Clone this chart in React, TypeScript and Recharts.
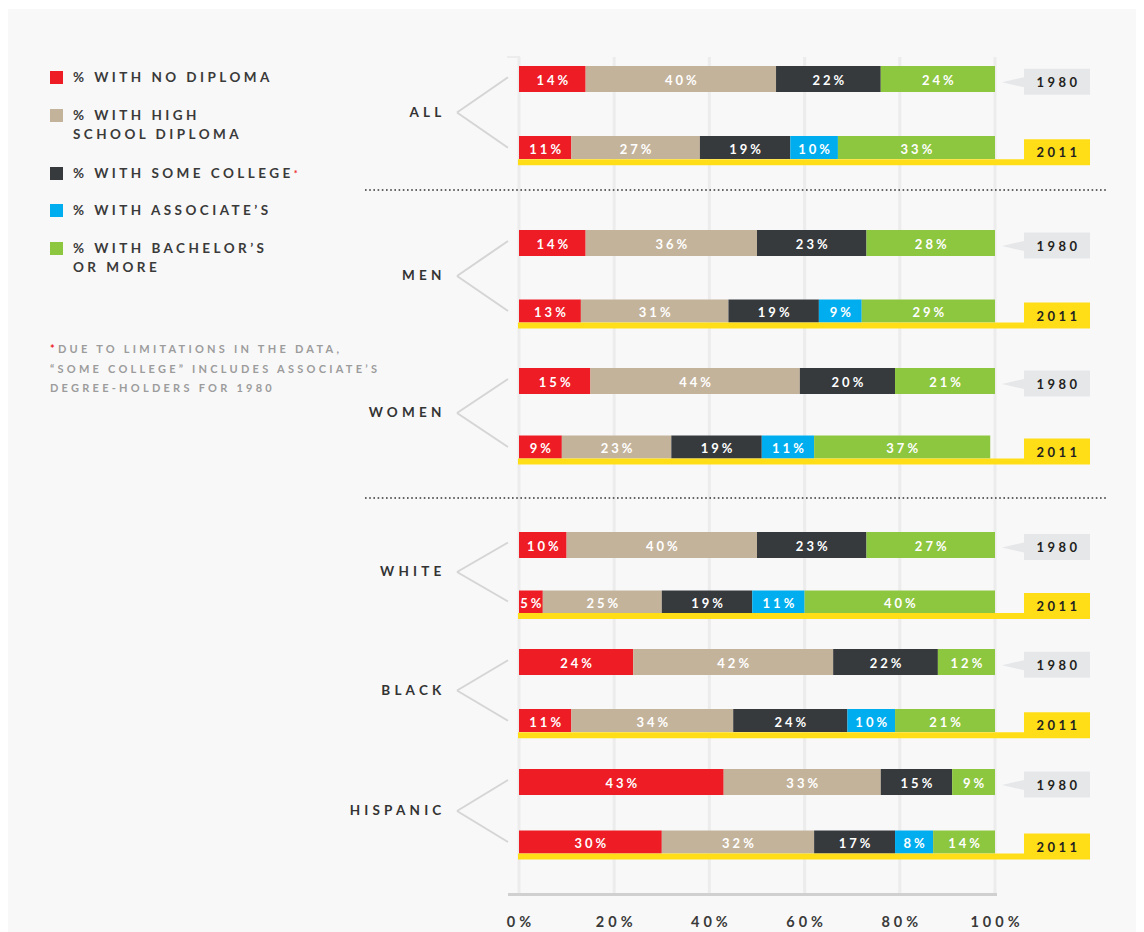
import { BarChart, Bar, XAxis, YAxis, CartesianGrid } from 'recharts'

// categories
const groups = ['ALL', 'MEN', 'WOMEN', 'WHITE', 'BLACK', 'HISPANIC']
const years = ['1980', '2011']

// one value per bar: ALL 1980, ALL 2011, MEN 1980, MEN 2011, ...
const noDiploma = [14, 11, 14, 13, 15, 9, 10, 5, 24, 11, 43, 30]
const highSchool = [40, 27, 36, 31, 44, 23, 40, 25, 42, 34, 33, 32]
const someCollege = [22, 19, 23, 19, 20, 19, 23, 19, 22, 24, 15, 17]
const associates = [0, 10, 0, 9, 0, 11, 0, 11, 0, 10, 0, 8]
const bachelors = [24, 33, 28, 29, 21, 37, 27, 40, 12, 21, 9, 14]

const xTicks = [0, 20, 40, 60, 80, 100]

const seriesKeys = ['noDiploma', 'highSchool', 'someCollege', 'associates', 'bachelors']
const seriesValues = [noDiploma, highSchool, someCollege, associates, bachelors]
const legendLines = [
  ['% WITH NO DIPLOMA'],
  ['% WITH HIGH', 'SCHOOL DIPLOMA'],
  ['% WITH SOME COLLEGE'],
  ['% WITH ASSOCIATE\u2019S'],
  ['% WITH BACHELOR\u2019S', 'OR MORE'],
]
const footnote = [
  'DUE TO LIMITATIONS IN THE DATA,',
  '\u201cSOME COLLEGE\u201d INCLUDES ASSOCIATE\u2019S',
  'DEGREE-HOLDERS FOR 1980',
]

const COLORS = ['#ee1c25', '#c4b39b', '#363a3d', '#00aeef', '#8dc63f']
const YELLOW = '#ffdd17'
const FONT = 'Lato, "Open Sans", "DejaVu Sans", sans-serif'

// layout
const W = 1144
const H = 932
const rowCenter = [79, 243, 381, 544, 662, 782] // 1980 bar centre per group
const rowGap = [68.5, 68, 66, 57, 58.5, 60] // distance 1980 -> 2011
const legendSquareTop = [71, 109, 167, 204, 242]

// every bar, flat (used by the grid/axis chart)
const allRows = groups.flatMap((g, gi) =>
  years.map((year, yi) => {
    const row: any = { name: `${g} ${year}`, year }
    seriesKeys.forEach((k, si) => {
      row[k] = seriesValues[si][gi * 2 + yi]
    })
    return row
  })
)

const Segment = (props: any) => {
  const { x, y, width, height, payload, k, color } = props
  const v = payload[k]
  if (!v || !(width > 0)) return <g />
  const c = y + height / 2
  const is2011 = payload.year === '2011'
  const h = is2011 ? 23 : 26
  const top = c - h / 2
  return (
    <g>
      <rect x={x} y={top} width={width} height={h} fill={color} />
      <text
        x={x + width / 2 + 1.5}
        y={c + 1}
        textAnchor="middle"
        dominantBaseline="central"
        fill="#ffffff"
        fontFamily={FONT}
        fontSize={13}
        fontWeight={700}
        letterSpacing={3}
      >
        {v}%
      </text>
    </g>
  )
}

const GroupTick = (props: any) => {
  const { y, payload, gi, gap } = props
  if (payload.value === '1980') {
    const vy = y + gap / 2 - 1
    return (
      <g>
        <line x1={457} y1={vy} x2={508} y2={y - 2} stroke="#d5d5d5" strokeWidth={2} />
        <text
          x={445.5}
          y={vy - 1}
          textAnchor="end"
          dominantBaseline="central"
          fill="#333333"
          fontFamily={FONT}
          fontSize={13.5}
          fontWeight={700}
          letterSpacing={4.2}
        >
          {groups[gi]}
        </text>
      </g>
    )
  }
  const vy = y - gap / 2 - 1
  return <line x1={457} y1={vy} x2={508} y2={y} stroke="#d5d5d5" strokeWidth={2} />
}

const YearTick = (props: any) => {
  const { y, payload } = props
  const c = y
  const txt = (cy: number) => (
    <text
      x={1058.5}
      y={cy}
      textAnchor="middle"
      dominantBaseline="central"
      fill="#231f20"
      fontFamily={FONT}
      fontSize={13}
      fontWeight={700}
      letterSpacing={3.5}
    >
      {payload.value}
    </text>
  )
  if (payload.value === '2011') {
    return (
      <g>
        <rect x={518} y={c + 11.5} width={1024 - 518} height={6} fill={YELLOW} />
        <rect x={1024} y={c - 8.5} width={66} height={26} fill={YELLOW} />
        {txt(c + 4.5)}
      </g>
    )
  }
  return (
    <g>
      <polygon points={`1002,${c + 3} 1024,${c - 2} 1024,${c + 8}`} fill="#e6e7e9" />
      <rect x={1024} y={c - 10.5} width={66} height={26} fill="#e6e7e9" />
      {txt(c + 2.5)}
    </g>
  )
}

const XTick = (props: any) => {
  const { x, payload } = props
  return (
    <text
      x={x + 2}
      y={927}
      textAnchor="middle"
      fill="#3a3a3a"
      fontFamily={FONT}
      fontSize={14.5}
      fontWeight={700}
      letterSpacing={4}
    >
      {payload.value}%
    </text>
  )
}

function GroupChart({ gi }: { gi: number }) {
  const gap = rowGap[gi]
  const top = rowCenter[gi] - gap / 2
  const height = gap * 2
  const data = allRows.slice(gi * 2, gi * 2 + 2)
  return (
    <div style={{ position: 'absolute', left: 0, top, width: W, height }}>
      <BarChart
        width={W}
        height={height}
        data={data}
        layout="vertical"
        margin={{ top: 0, right: 54, bottom: 0, left: 439 }}
        barCategoryGap={0}
        style={{ overflow: 'visible' }}
      >
        <XAxis type="number" domain={[0, 100]} allowDataOverflow hide />
        <YAxis
          yAxisId="l"
          type="category"
          dataKey="year"
          width={80}
          axisLine={false}
          tickLine={false}
          interval={0}
          tick={(p: any) => <GroupTick {...p} gi={gi} gap={gap} />}
        />
        <YAxis
          yAxisId="r"
          orientation="right"
          type="category"
          dataKey="year"
          width={95}
          axisLine={false}
          tickLine={false}
          interval={0}
          tick={(p: any) => <YearTick {...p} />}
        />
        {seriesKeys.map((k, si) => (
          <Bar
            key={k}
            dataKey={k}
            stackId="a"
            yAxisId="l"
            barSize={26}
            isAnimationActive={false}
            shape={(p: any) => <Segment {...p} k={k} color={COLORS[si]} />}
          />
        ))}
      </BarChart>
    </div>
  )
}

const Dotted = ({ y }: { y: number }) => (
  <svg style={{ position: 'absolute', left: 365, top: y - 2 }} width={745} height={4}>
    <line x1={0} y1={2} x2={743} y2={2} stroke="#333" strokeWidth={1.6} strokeDasharray="1.6 2.6" />
  </svg>
)

export default function App() {
  return (
    <div style={{ position: 'absolute', left: 0, top: 0, width: W, height: H, background: '#fff', overflow: 'hidden', fontFamily: FONT }}>
      <div style={{ position: 'absolute', left: 8, top: 9, width: 1128, height: H - 9, background: '#f8f8f8' }} />

      {/* grid + x axis (bars hidden here, drawn per group below) */}
      <div style={{ position: 'absolute', left: 0, top: 0 }}>
        <BarChart
          width={W}
          height={H}
          data={allRows}
          layout="vertical"
          margin={{ top: 57, right: 149, bottom: 9, left: 519 }}
        >
          <CartesianGrid horizontal={false} stroke="#ececec" strokeWidth={3} />
          <XAxis
            type="number"
            domain={[0, 100]}
            ticks={xTicks}
            interval={0}
            allowDataOverflow
            axisLine={false}
            tickLine={false}
            height={30}
            tick={(p: any) => <XTick {...p} />}
          />
          <YAxis type="category" dataKey="name" hide />
          {seriesKeys.map((k) => (
            <Bar key={k} dataKey={k} stackId="a" isAnimationActive={false} shape={() => <g />} />
          ))}
        </BarChart>
      </div>
      <div style={{ position: 'absolute', left: 507, top: 56, width: 13, height: 2, background: '#ececec' }} />
      <div style={{ position: 'absolute', left: 508, top: 893, width: 489, height: 3, background: '#d0d0d0' }} />

      <Dotted y={190} />
      <Dotted y={498} />

      {groups.map((g, gi) => (
        <GroupChart key={g} gi={gi} />
      ))}

      {/* legend */}
      {legendLines.map((lines, i) => (
        <div key={i}>
          <div
            style={{
              position: 'absolute',
              left: 50,
              top: legendSquareTop[i],
              width: 13,
              height: 13,
              background: COLORS[i],
            }}
          />
          <div
            style={{
              position: 'absolute',
              left: 73,
              top: legendSquareTop[i] - 3.5,
              fontSize: 13.5,
              lineHeight: '19.5px',
              letterSpacing: 3.45,
              fontWeight: 700,
              color: '#3a3a3a',
              whiteSpace: 'nowrap',
            }}
          >
            {lines.map((l, li) => (
              <div key={li}>
                {l}
                {i === 2 && <span style={{ color: COLORS[0], fontSize: 9, verticalAlign: 'top' }}>*</span>}
              </div>
            ))}
          </div>
        </div>
      ))}

      {/* footnote */}
      <div
        style={{
          position: 'absolute',
          left: 50,
          top: 339,
          fontSize: 11,
          lineHeight: '19.5px',
          letterSpacing: 3.25,
          fontWeight: 700,
          color: '#9c9c9c',
          whiteSpace: 'nowrap',
        }}
      >
        {footnote.map((l, li) => (
          <div key={li}>
            {li === 0 && <span style={{ color: COLORS[0] }}>*</span>}
            {l}
          </div>
        ))}
      </div>
    </div>
  )
}
